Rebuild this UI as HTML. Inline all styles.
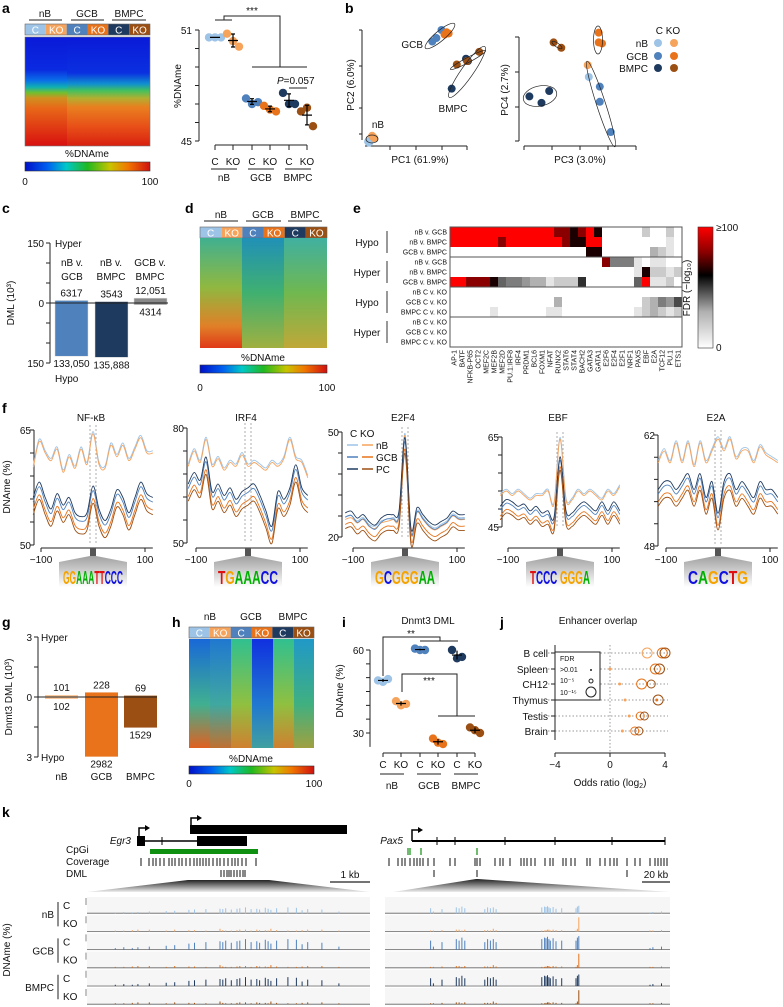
<!DOCTYPE html>
<html><head><meta charset="utf-8"><style>
html,body{margin:0;padding:0;background:#fff}
svg{display:block;font-family:"Liberation Sans",Arial,sans-serif}
.pl{font-weight:bold;font-size:14px}
.t{font-size:10px;fill:#111}
.s{font-size:7px;fill:#111}
.ax{stroke:#222;stroke-width:1;fill:none}
</style></head><body>
<svg id="fig" width="783" height="1007" viewBox="0 0 783 1007">
<defs>
<linearGradient id="jet" x1="0" x2="1" y1="0" y2="0"><stop offset="0" stop-color="#0010c8"/><stop offset="0.18" stop-color="#0060f0"/><stop offset="0.33" stop-color="#00c8c8"/><stop offset="0.5" stop-color="#20b820"/><stop offset="0.68" stop-color="#c8c400"/><stop offset="0.82" stop-color="#f07800"/><stop offset="1" stop-color="#d01010"/></linearGradient>
<linearGradient id="hmA1" x1="0" x2="0" y1="0" y2="1"><stop offset="0" stop-color="#0a1ad8"/><stop offset="0.3" stop-color="#0a2ae0"/><stop offset="0.4" stop-color="#0a70e8"/><stop offset="0.46" stop-color="#10b0b0"/><stop offset="0.51" stop-color="#70c030"/><stop offset="0.56" stop-color="#d09020"/><stop offset="0.65" stop-color="#e86818"/><stop offset="1" stop-color="#d81010"/></linearGradient>
<linearGradient id="hmA2" x1="0" x2="0" y1="0" y2="1"><stop offset="0" stop-color="#0a1ad8"/><stop offset="0.33" stop-color="#0a30e0"/><stop offset="0.43" stop-color="#1090d0"/><stop offset="0.49" stop-color="#40c060"/><stop offset="0.56" stop-color="#b0b030"/><stop offset="0.64" stop-color="#e88020"/><stop offset="0.82" stop-color="#e85018"/><stop offset="1" stop-color="#d82010"/></linearGradient>
<linearGradient id="hmD1" x1="0" x2="0" y1="0" y2="1"><stop offset="0" stop-color="#40b090"/><stop offset="0.45" stop-color="#90b840"/><stop offset="0.8" stop-color="#e08028"/><stop offset="1" stop-color="#e03818"/></linearGradient>
<linearGradient id="hmD2" x1="0" x2="0" y1="0" y2="1"><stop offset="0" stop-color="#2090b8"/><stop offset="0.5" stop-color="#40b070"/><stop offset="1" stop-color="#a0b040"/></linearGradient>
<linearGradient id="hmD3" x1="0" x2="0" y1="0" y2="1"><stop offset="0" stop-color="#40b0a0"/><stop offset="0.5" stop-color="#70b850"/><stop offset="1" stop-color="#c0a838"/></linearGradient>
<linearGradient id="hh1" x1="0" x2="0" y1="0" y2="1"><stop offset="0" stop-color="#1868d8"/><stop offset="0.6" stop-color="#40b090"/><stop offset="1" stop-color="#e06020"/></linearGradient>
<linearGradient id="hh2" x1="0" x2="0" y1="0" y2="1"><stop offset="0" stop-color="#2078d0"/><stop offset="0.6" stop-color="#40a8a0"/><stop offset="1" stop-color="#c07030"/></linearGradient>
<linearGradient id="hh3" x1="0" x2="0" y1="0" y2="1"><stop offset="0" stop-color="#30c090"/><stop offset="0.6" stop-color="#90c040"/><stop offset="1" stop-color="#d08030"/></linearGradient>
<linearGradient id="hh4" x1="0" x2="0" y1="0" y2="1"><stop offset="0" stop-color="#1030e0"/><stop offset="0.6" stop-color="#2078d0"/><stop offset="1" stop-color="#40a0a0"/></linearGradient>
<linearGradient id="hh6" x1="0" x2="0" y1="0" y2="1"><stop offset="0" stop-color="#2098c8"/><stop offset="0.6" stop-color="#40b080"/><stop offset="1" stop-color="#a0a040"/></linearGradient>
<linearGradient id="fdr" x1="0" x2="0" y1="1" y2="0"><stop offset="0" stop-color="#ffffff"/><stop offset="0.3" stop-color="#b0b0b0"/><stop offset="0.6" stop-color="#000000"/><stop offset="0.8" stop-color="#900000"/><stop offset="1" stop-color="#ff0000"/></linearGradient>
<linearGradient id="funnel" x1="0" x2="0" y1="0" y2="1"><stop offset="0" stop-color="#888"/><stop offset="1" stop-color="#fff"/></linearGradient>
<linearGradient id="zoomg" x1="0" x2="0" y1="0" y2="1"><stop offset="0" stop-color="#222"/><stop offset="1" stop-color="#eee"/></linearGradient>
</defs>

<!-- ===== Panel a ===== -->
<g>
<text class="pl" x="2" y="13">a</text>
<g class="t">
<text x="45" y="17" text-anchor="middle">nB</text><text x="87" y="17" text-anchor="middle">GCB</text><text x="129" y="17" text-anchor="middle">BMPC</text>
<line x1="29" x2="62" y1="20" y2="20" stroke="#222"/><line x1="71" x2="104" y1="20" y2="20" stroke="#222"/><line x1="112" x2="146" y1="20" y2="20" stroke="#222"/>
</g>
<g id="hdrA"></g>
<rect x="25" y="37" width="42" height="109" fill="url(#hmA1)"/>
<rect x="67" y="37" width="83" height="109" fill="url(#hmA2)"/>
<rect x="25" y="37" width="125" height="109" fill="none" stroke="#777" stroke-width="0.6"/>
<text class="t" x="87" y="157" text-anchor="middle">%DNAme</text>
<rect x="25" y="162" width="125" height="9" fill="url(#jet)" stroke="#333" stroke-width="0.6"/>
<text class="t" x="25" y="185" text-anchor="middle">0</text><text class="t" x="150" y="185" text-anchor="middle">100</text>
<g id="dotA"></g>
</g>

<!-- ===== Panel b ===== -->
<g>
<text class="pl" x="345" y="13">b</text>
<path class="ax" d="M362,30V140 M359,30H362 M359,66H362 M359,108H362 M359,134H362"/>
<path class="ax" d="M365,146H467 M390,146V150 M416,146V150 M442,146V150 M467,146V150"/>
<text class="t" x="354" y="85" text-anchor="middle" transform="rotate(-90 354 85)">PC2 (6.0%)</text>
<text class="t" x="420" y="163" text-anchor="middle">PC1 (61.9%)</text>
<path class="ax" d="M519,37V141 M515,37H519 M515,72H519 M515,107H519 M515,141H519"/>
<path class="ax" d="M524,146H636 M524,146V150 M552,146V150 M580,146V150 M608,146V150 M636,146V150"/>
<text class="t" x="508" y="90" text-anchor="middle" transform="rotate(-90 508 90)">PC4 (2.7%)</text>
<text class="t" x="580" y="163" text-anchor="middle">PC3 (3.0%)</text>
<text class="t" x="423" y="48" text-anchor="end">GCB</text>
<text class="t" x="453" y="112" text-anchor="middle">BMPC</text>
<text class="t" x="378" y="128" text-anchor="middle">nB</text>
<g id="pca"></g>
<g fill="none" stroke="#222" stroke-width="0.7">
<ellipse cx="440" cy="36" rx="19" ry="5" transform="rotate(-40 440 36)"/>
<ellipse cx="467" cy="72" rx="31" ry="6" transform="rotate(-55 467 72)"/>
<ellipse cx="468" cy="60" rx="20" ry="2.5" transform="rotate(-28 468 60)"/>
<ellipse cx="372" cy="139" rx="6" ry="4"/>
<ellipse cx="540" cy="96" rx="17" ry="10" transform="rotate(-12 540 96)"/>
<ellipse cx="557" cy="45" rx="6" ry="2" transform="rotate(35 557 45)"/>
<ellipse cx="598" cy="40" rx="4.5" ry="14"/>
<ellipse cx="601" cy="104" rx="45" ry="4.5" transform="rotate(72 601 104)"/>
</g>
<g class="t">
<text x="668" y="34" text-anchor="middle">C KO</text>
<text x="648" y="47" text-anchor="end">nB</text><text x="648" y="60" text-anchor="end">GCB</text><text x="648" y="72" text-anchor="end">BMPC</text>
<circle cx="658" cy="43" r="4" fill="#9dc3e6"/><circle cx="674" cy="43" r="4" fill="#f6a35c"/>
<circle cx="658" cy="56" r="4" fill="#4f81bd"/><circle cx="674" cy="56" r="4" fill="#e8731a"/>
<circle cx="658" cy="68" r="4" fill="#1f3a5f"/><circle cx="674" cy="68" r="4" fill="#9c4f12"/>
</g>
</g>

<!-- ===== Panel c ===== -->
<g>
<text class="pl" x="2" y="213">c</text>
<path class="ax" d="M50,243V363 M46,243H50 M46,263H50 M46,283H50 M46,303H50 M46,323H50 M46,343H50 M46,363H50"/>
<text class="t" x="44" y="247" text-anchor="end">150</text><text class="t" x="44" y="307" text-anchor="end">0</text><text class="t" x="44" y="367" text-anchor="end">150</text>
<text class="t" x="14" y="303" text-anchor="middle" transform="rotate(-90 14 303)">DML (10³)</text>
<text class="t" x="55" y="247">Hyper</text><text class="t" x="55" y="382">Hypo</text>
<g class="t" text-anchor="middle"><text x="72" y="266">nB v.</text><text x="72" y="280">GCB</text><text x="111" y="266">nB v.</text><text x="111" y="280">BMPC</text><text x="150" y="266">GCB v.</text><text x="150" y="280">BMPC</text></g>
<g id="barC"></g>
</g>

<!-- ===== Panel d ===== -->
<g>
<text class="pl" x="185" y="213">d</text>
<g class="t" text-anchor="middle"><text x="221" y="218">nB</text><text x="263" y="218">GCB</text><text x="305" y="218">BMPC</text></g>
<path d="M204,221H238 M246,221H281 M288,221H322" stroke="#222"/>
<g id="hdrD"></g>
<rect x="200" y="238" width="42" height="110" fill="url(#hmD1)"/>
<rect x="242" y="238" width="42" height="110" fill="url(#hmD2)"/>
<rect x="284" y="238" width="43" height="110" fill="url(#hmD3)"/>
<text class="t" x="263" y="361" text-anchor="middle">%DNAme</text>
<rect x="200" y="365" width="127" height="8" fill="url(#jet)" stroke="#333" stroke-width="0.6"/>
<text class="t" x="200" y="391" text-anchor="middle">0</text><text class="t" x="327" y="391" text-anchor="middle">100</text>
</g>

<!-- ===== Panel e ===== -->
<g>
<text class="pl" x="353" y="213">e</text>
<g id="heatE"></g>
<rect x="698" y="227" width="15" height="121" fill="url(#fdr)" stroke="#333" stroke-width="0.6"/>
<text class="t" x="716" y="231">≥100</text><text class="t" x="716" y="351">0</text>
<text class="t" x="690" y="288" text-anchor="middle" transform="rotate(-90 690 288)">FDR (−log₁₀)</text>
</g>

<!-- ===== Panel f ===== -->
<g>
<text class="pl" x="2" y="413">f</text>
<text class="t" x="10" y="487" text-anchor="middle" transform="rotate(-90 10 487)">DNAme (%)</text>
<g id="lineF"></g>
</g>

<!-- ===== Panel g ===== -->
<g>
<text class="pl" x="2" y="627">g</text>
<path class="ax" d="M38,637V757 M34,637H38 M34,667H38 M34,697H38 M34,727H38 M34,757H38"/>
<text class="t" x="32" y="641" text-anchor="end">3</text><text class="t" x="32" y="701" text-anchor="end">0</text><text class="t" x="32" y="761" text-anchor="end">3</text>
<text class="t" x="41" y="641">Hyper</text><text class="t" x="41" y="761">Hypo</text>
<text class="t" x="12" y="697" text-anchor="middle" transform="rotate(-90 12 697)">Dnmt3 DML (10³)</text>
<g id="barG"></g>
</g>

<!-- ===== Panel h ===== -->
<g>
<text class="pl" x="172" y="627">h</text>
<g class="t" text-anchor="middle"><text x="210" y="620">nB</text><text x="251" y="620">GCB</text><text x="293" y="620">BMPC</text></g>
<g id="hdrH"></g>
<rect x="189" y="639" width="21" height="109" fill="url(#hh1)"/>
<rect x="210" y="639" width="21" height="109" fill="url(#hh2)"/>
<rect x="231" y="639" width="21" height="109" fill="url(#hh3)"/>
<rect x="252" y="639" width="21" height="109" fill="url(#hh4)"/>
<rect x="273" y="639" width="21" height="109" fill="url(#hh3)"/>
<rect x="294" y="639" width="20" height="109" fill="url(#hh6)"/>
<text class="t" x="251" y="762" text-anchor="middle">%DNAme</text>
<rect x="189" y="766" width="125" height="8" fill="url(#jet)" stroke="#333" stroke-width="0.6"/>
<text class="t" x="189" y="787" text-anchor="middle">0</text><text class="t" x="314" y="787" text-anchor="middle">100</text>
</g>

<!-- ===== Panel i ===== -->
<g>
<text class="pl" x="342" y="627">i</text>
<text class="t" x="428" y="624" text-anchor="middle">Dnmt3 DML</text>
<text class="t" x="343" y="691" text-anchor="middle" transform="rotate(-90 343 691)">DNAme (%)</text>
<g id="dotI"></g>
</g>

<!-- ===== Panel j ===== -->
<g>
<text class="pl" x="500" y="627">j</text>
<text class="t" x="598" y="624" text-anchor="middle">Enhancer overlap</text>
<g id="dotJ"></g>
<g>
<rect x="555" y="652" width="45" height="48" fill="#fff" stroke="#222"/>
<text class="s" x="560" y="661">FDR</text>
<text class="s" x="560" y="672">&gt;0.01</text><circle cx="591" cy="670" r="1" fill="#222"/>
<text class="s" x="560" y="683">10⁻⁵</text><circle cx="591" cy="681" r="2" fill="none" stroke="#222"/>
<text class="s" x="560" y="695">10⁻¹⁵</text><circle cx="591" cy="692" r="5" fill="none" stroke="#222"/>
</g>
</g>

<!-- ===== Panel k ===== -->
<g>
<text class="pl" x="2" y="817">k</text>
<g>
<rect x="190" y="825" width="157" height="9" fill="#000"/>
<path d="M191,825V818H198" stroke="#000" fill="none" stroke-width="1.5"/><path d="M197,815L202,818L197,821Z" fill="#000"/>
<text class="t" x="131" y="844" text-anchor="end" font-style="italic">Egr3</text>
<rect x="137" y="836" width="8" height="10" fill="#000"/>
<line x1="145" x2="197" y1="841" y2="841" stroke="#000" stroke-width="1.5"/><line x1="162" x2="162" y1="837" y2="845" stroke="#000"/>
<rect x="197" y="836" width="50" height="10" fill="#000"/>
<path d="M139,836V828H146" stroke="#000" fill="none" stroke-width="1.5"/><path d="M145,825L150,828L145,831Z" fill="#000"/>
<text class="t" x="403" y="844" text-anchor="end" font-style="italic">Pax5</text>
<line x1="412" x2="665" y1="841" y2="841" stroke="#000" stroke-width="2"/>
<path d="M412,841V830H419" stroke="#000" fill="none" stroke-width="1.5"/><path d="M418,827L423,830L418,833Z" fill="#000"/>
<path d="M437,837V845 M455,837V845 M505,837V845 M555,837V845 M612,837V845 M665,837V845" stroke="#000"/>
</g>
<g class="t"><text x="66" y="853">CpGi</text><text x="66" y="865">Coverage</text><text x="66" y="877">DML</text></g>
<rect x="150" y="849" width="108" height="5" fill="#109010"/>
<path d="M408,848V855 M410,848V855 M421,848V855 M477,848V855" stroke="#109010" stroke-width="1.2"/>
<g id="covK"></g>
<path d="M330,882H370 M642,882H670" stroke="#222" stroke-width="1.2"/>
<text class="t" x="350" y="878" text-anchor="middle">1 kb</text><text class="t" x="656" y="878" text-anchor="middle">20 kb</text>
<path d="M188,880H269L370,892H87Z" fill="url(#zoomg)"/>
<path d="M476,879H478L670,892H393Z" fill="url(#zoomg)"/>
<text class="t" x="10" y="950" text-anchor="middle" transform="rotate(-90 10 950)">DNAme (%)</text>
<g id="trackK"></g>
</g>
</svg>

<script>
// ---------- DATA ----------
const sampleColors = ['#9dc3e6','#f6a35c','#4f81bd','#e8731a','#1f3a5f','#9c4f12'];
const sampleLabels = ['C','KO','C','KO','C','KO'];
const groupNames = ['nB','GCB','BMPC'];
const aValues = [[50.6,50.6,50.6],[50.8,50.4,50.1],[47.3,47.0,47.1],[46.9,46.7,46.6],[47.6,47.0,47.0],[46.6,46.8,45.8]];
const aTicks = [45,46,47,48,49,50,51];
const pc12 = {nB_C:[[3,3],[5,4],[4,2]], nB_KO:[[8,7],[9,6],[7,8]], GCB_C:[[66,90],[75,100],[70,93]], GCB_KO:[[80,98],[78,96],[82,97]], BMPC_C:[[101,73],[85,49],[99,75]], BMPC_KO:[[90,70],[100,73],[112,81]]};
const pc34 = {nB_C:[[58,63]], nB_KO:[[57,74]], GCB_C:[[68,54],[68,40],[78,12]], GCB_KO:[[67,104],[67,95],[70,94]], BMPC_C:[[4,45],[22,50],[15,39]], BMPC_KO:[[26,95],[33,90]]};
const cComparisons = ['nB v. GCB','nB v. BMPC','GCB v. BMPC'];
const cHyper = [6317,3543,12051];
const cHypo = [133050,135888,4314];
const cHyperLabels = ['6317','3543','12,051'];
const cHypoLabels = ['133,050','135,888','4314'];
const eMotifs = ['AP-1','BATF','NFKB-P65','OCT2','MEF2C','MEF2B','MEF2D','PU.1:IRF8','IRF4','PRDM1','BCL6','FOXM1','NFAT','RUNX2','STAT6','STAT4','BACH2','GATA3','GATA1','E2F6','E2F4','E2F1','NRF1','PAX5','EBF','E2A','TCF12','PU.1','ETS1'];
const eRows = ['nB v. GCB','nB v. BMPC','GCB v. BMPC','nB v. GCB','nB v. BMPC','GCB v. BMPC','nB C v. KO','GCB C v. KO','BMPC C v. KO','nB C v. KO','GCB C v. KO','BMPC C v. KO'];
const eGroups = ['Hypo','Hyper','Hypo','Hyper'];
const eMatrix = [
 'RRRRRRRRRRRRRrrkrRk.....2..2.',
 'RRRRRRrRRRRRRRrkkRR........1.',
 '.................kk......321.',
 '...................r5551.11..',
 '.......................1k2212',
 'RRrrrk65543312228......6R112.',
 '.............................',
 '.............3..........23547',
 '.....1......11.........123212',
 '.............................',
 '.............................',
 '.............................'];
const fMotifs = ['NF-κB','IRF4','E2F4','EBF','E2A'];
const fPositions = [-115,-103.5,-92,-80.5,-69,-57.5,-46,-34.5,-23,-11.5,0,11.5,23,34.5,46,57.5,69,80.5,92,103.5,115];
const fNB = [
 [60,63.5,62,61,62.5,59.5,61.5,60,62.5,60.5,64.5,60.5,60,63,61.5,63,61,62.5,64,62,62],
 [70,74,71,77,70,72,69,71,70,73,70,71,70,69,71,70,72,77,72,71,67],
 [25,25.5,24,25,23,22.5,24,24.5,25,26,49,21,27,25,23,22,23,24,26,25,25],
 [52,53,52,53,52,51,52,52,53,50,64.5,51,51,53,52,53,52,51,53,52,54],
 [58.5,60,58.5,61,58.5,61,58,61,58.5,60,61.5,60,61.5,59,60,60,58.5,60.5,59.5,59,58.5]];
const fLow = [
 [55,57,55,53.5,55.5,54,55,53,52.5,53,56.5,53.5,52,53.5,56,55,53,55,57,55.5,55],
 [63,66,64,70,61,63,60,62,59,61,62,63,60,56,52,61,59,62,68,62,60],
 [24.5,25,23,24,22,21,23,24,24,25,46,20,26,24,22,21,22,23,25,24,24],
 [48,49.5,49,48,48.5,47,48,46.5,47,45.5,59,47,46.5,48,49,48,47,49,47,49,47],
 [54,55,55,54,55,56,54,56,53,55,51,55,56,54,55,54,53,55,54,54,53]];
const fOffsets = [0.02,0,0.04,0.08,-0.03,-0.07];
const fYMin = [50,50,20,45,48];
const fYMax = [65,80,50,65,62];
const fLogos = ['GGAAATTCCC','TGAAACC','GCGGGAA','TCCC  GGGA','CAGCTG'];
const gHyper = [101,228,69];
const gHypo = [102,2982,1529];
const iValues = [[49,48.5,49.5],[41.5,40,40.5],[60.5,60,60],[28,26.5,26],[60,57,57.5],[32,31,30]];
const iTicks = [30,35,40,45,50,55,60];
const jTissues = ['B cell','Spleen','CH12','Thymus','Testis','Brain'];
const jOdds = [[2.7,3.8,4.0],[0,3.3,3.6],[0.7,2.3,3.0],[1.1,3.4,3.5],[1.4,2.2,2.5],[0.9,1.8,2.1]];
const jSize = [[5,5,5],[1,5,5],[1,5,4],[1,1,5],[1,4,4],[1,4,4]];
const jTicks = [-4,0,4];
const kLeftSites = [10,13,16,18,22,28,31,36,38,42,47,48,49,51,53,54,56,58,60,61,63,64,65,67,71,74,76,78,83,89];
const kLeftC = [0.1,0.15,0.1,0.15,0.2,0.25,0.3,0.4,0.45,0.5,0.55,0.5,0.6,0.45,0.55,0.6,0.7,0.5,0.55,0.45,0.65,0.55,0.4,0.6,0.7,0.65,0.35,0.5,0.45,0.2];
const kRightSites = [16,17,20,25,26,27,28,35,36,37,38,39,55,56,56.5,57,57.5,58,59,60,62,67,67.5,68,93,94,97];
const kRightC = [0.6,0.2,0.5,0.7,0.6,0.8,0.6,0.5,0.7,0.6,0.7,0.5,0.7,0.8,0.75,0.85,0.7,0.6,0.75,0.55,0.6,0.6,0.8,0.9,0.1,0.15,0.2];
const kKO = [0.1,0.1,0.15,0.2,0.2,0.1,0.2,0.15,0.15,0.1,0.3,0.15];
const kCoverLeft = [141,149,153,156,160,164,169,172,175,179,182,186,190,194,197,200,203,206,209,213,217,220,224,228,232,235,238,242,246,256];
const kCoverRight = [389,398,402,405,410,414,417,420,423,428,434,450,455,475,477,480,495,500,503,510,521,524,527,531,535,545,550,553,563,566,571,575,587,590,600,605,610,614,617,627,635,640,650,655,658,661,664,667];
const kDMLLeft = [221,224,227,229,231,234,237,240,243,245];
const kDMLRight = [434,477,627];

// ---------- HELPERS ----------
const NS='http://www.w3.org/2000/svg';
function mk(tag, attrs, parent){const e=document.createElementNS(NS,tag);for(const k in attrs)e.setAttribute(k,attrs[k]);parent.appendChild(e);return e;}
function lin(d0,d1,r0,r1){return v=>r0+(v-d0)*(r1-r0)/(d1-d0);}
function smooth(p){let d='M'+p[0][0].toFixed(1)+','+p[0][1].toFixed(1);for(let i=0;i<p.length-1;i++){const p0=p[Math.max(0,i-1)],p1=p[i],p2=p[i+1],p3=p[Math.min(p.length-1,i+2)];d+='C'+(p1[0]+(p2[0]-p0[0])/6).toFixed(1)+','+(p1[1]+(p2[1]-p0[1])/6).toFixed(1)+' '+(p2[0]-(p3[0]-p1[0])/6).toFixed(1)+','+(p2[1]-(p3[1]-p1[1])/6).toFixed(1)+' '+p2[0].toFixed(1)+','+p2[1].toFixed(1);}return d;}

function header(g,x0,w,y,h){
  for(let i=0;i<6;i++){
    const r=mk('rect',{x:x0+i*w,y:y,width:w,height:h,fill:sampleColors[i]},g);
    
    
    const t=mk('text',{x:x0+i*w+w/2,y:y+h-1.5,'text-anchor':'middle','font-size':10,fill:'#fff'},g);t.textContent=sampleLabels[i];
  }
  mk('rect',{x:x0,y:y,width:6*w,height:h,fill:'none',stroke:'#666','stroke-width':0.6},g);
}
header(document.getElementById('hdrA'),25,125/6,24,11);
header(document.getElementById('hdrD'),200,127/6,227,11);
header(document.getElementById('hdrH'),189,125/6,627,11);

// ---------- a dot plot ----------
(function(){
  const g=document.getElementById('dotA');
  const y=lin(45,51,141,30);const xs=[215,233,252,270,289,307];const jit=[-6,0,6];
  let d='M199,'+y(51)+'V'+y(45);aTicks.forEach(t=>d+='M195,'+y(t)+'H199');
  mk('path',{d:d,class:'ax'},g);
  [51,45].forEach(t=>{const e=mk('text',{x:192,y:y(t)+4,'text-anchor':'end',class:'t'},g);e.textContent=t;});
  const yl=mk('text',{x:181,y:86,'text-anchor':'middle',class:'t',transform:'rotate(-90 181 86)'},g);yl.textContent='%DNAme';
  let xd='M215,145H307';xs.forEach(x=>xd+='M'+x+',145V150');mk('path',{d:xd,class:'ax'},g);
  aValues.forEach((vals,i)=>{
    vals.forEach((v,j)=>{const c=mk('circle',{cx:xs[i]+jit[j],cy:y(v),r:4.2,fill:sampleColors[i]},g);
      
      });
    const m=vals.reduce((a,b)=>a+b,0)/3, sd=Math.sqrt(vals.reduce((a,b)=>a+(b-m)*(b-m),0)/2);
    mk('path',{d:`M${xs[i]-5},${y(m)}H${xs[i]+5}M${xs[i]},${y(m+sd)}V${y(m-sd)}M${xs[i]-2},${y(m+sd)}H${xs[i]+2}M${xs[i]-2},${y(m-sd)}H${xs[i]+2}`,stroke:'#000','stroke-width':1.2},g);
    const t=mk('text',{x:xs[i],y:165,'text-anchor':'middle',class:'t'},g);t.textContent=sampleLabels[i];
  });
  [[224,'nB'],[261,'GCB'],[298,'BMPC']].forEach(([x,s])=>{mk('line',{x1:x-13,x2:x+13,y1:169,y2:169,stroke:'#222'},g);const t=mk('text',{x:x,y:181,'text-anchor':'middle',class:'t'},g);t.textContent=s;});
  mk('path',{d:'M215,20H232M224,20V16H280V67M252,67H307M289,88H307',stroke:'#222',fill:'none'},g);
  const s=mk('text',{x:252,y:14,'text-anchor':'middle',class:'t'},g);s.textContent='***';
  const p=mk('text',{x:277,y:84,'text-anchor':'start',class:'t'},g);p.innerHTML='<tspan font-style="italic">P</tspan>=0.057';
})();

// ---------- b PCA ----------
(function(){
  const g=document.getElementById('pca');
  const x1=lin(0,100,365,467),y1=lin(0,100,145,30),x2=lin(0,100,525,635),y2=lin(0,100,145,37);
  const keys=['nB_C','nB_KO','GCB_C','GCB_KO','BMPC_C','BMPC_KO'];
  keys.forEach((k,i)=>{
    pc12[k].forEach(p=>{const c=mk('circle',{cx:x1(p[0]),cy:y1(p[1]),r:4,fill:sampleColors[i]},g);
      
      });
    pc34[k].forEach(p=>{const c=mk('circle',{cx:x2(p[0]),cy:y2(p[1]),r:4,fill:sampleColors[i]},g);
      
      });
  });
})();

// ---------- c bars ----------
(function(){
  const g=document.getElementById('barC');
  const y=lin(0,150000,303,243);const yd=lin(0,150000,303,363);
  const xs=[55,95,134],w=33,cols=['#4f81bd','#1f3a5f','#888'];
  cComparisons.forEach((c,i)=>{
    const h=mk('rect',{x:xs[i],y:y(cHyper[i]),width:w,height:303-y(cHyper[i]),fill:cols[i],stroke:'#ddd','stroke-width':0.5},g);
    
    
    const b=mk('rect',{x:xs[i],y:303,width:w,height:yd(cHypo[i])-303,fill:cols[i],stroke:'#ddd','stroke-width':0.5},g);
    
    
    const t1=mk('text',{x:xs[i]+w/2,y:y(cHyper[i])-4,'text-anchor':'middle',class:'t'},g);t1.textContent=cHyperLabels[i];
    const t2=mk('text',{x:xs[i]+w/2,y:yd(cHypo[i])+11,'text-anchor':'middle',class:'t'},g);t2.textContent=cHypoLabels[i];
  });
  mk('line',{x1:50,x2:168,y1:303,y2:303,stroke:'#222'},g);
})();

// ---------- e heatmap ----------
(function(){
  const g=document.getElementById('heatE');
  const x0=450,y0=227,cw=232/eMotifs.length,rh=10;
  function col(ch){if(ch==='.')return '#ffffff';if(ch==='R')return '#ff0000';if(ch==='r')return '#8a0000';if(ch==='k')return '#1a0000';const v=255-(+ch)*26;return `rgb(${v},${v},${v})`;}
  eMatrix.forEach((row,r)=>{
    for(let c=0;c<eMotifs.length;c++){
      const e=mk('rect',{x:x0+c*cw,y:y0+r*rh,width:cw+0.3,height:rh+0.3,fill:col(row[c])},g);
      
      
    }
    const t=mk('text',{x:447,y:y0+r*rh+7.5,'text-anchor':'end','font-size':7,fill:'#111'},g);t.textContent=eRows[r];
  });
  mk('rect',{x:x0,y:y0,width:232,height:12*rh,fill:'none',stroke:'#555'},g);
  [3,6,9].forEach(r=>mk('line',{x1:x0,x2:x0+232,y1:y0+r*rh,y2:y0+r*rh,stroke:'#555'},g));
  eGroups.forEach((s,i)=>{const t=mk('text',{x:367,y:y0+i*30+19,'text-anchor':'middle',class:'t'},g);t.textContent=s;
    mk('line',{x1:387,x2:387,y1:y0+i*30+4,y2:y0+i*30+26,stroke:'#555','stroke-width':1.2},g);});
  eMotifs.forEach((m,c)=>{const x=x0+c*cw+cw/2+2.5;const t=mk('text',{x:x,y:350,'text-anchor':'end','font-size':7,fill:'#111',transform:`rotate(-90 ${x} 350)`},g);t.textContent=m;});
})();

// ---------- f profiles ----------
(function(){
  const g=document.getElementById('lineF');
  const axX=[34,187,342,502,658],cen=[93,248,405,560,718],top=[430,428,432,437,435],bot=[545,543,537,527,546];
  const lineCols=['#9dc3e6','#f6a35c','#4f81bd','#1f3a5f','#e8731a','#9c4f12'];
  const letCol={G:'#f5a300',A:'#00b000',T:'#e01010',C:'#1010e0',' ':'#fff'};
  fMotifs.forEach((m,k)=>{
    const y=lin(fYMin[k],fYMax[k],bot[k],top[k]);const x=lin(-100,100,cen[k]-52,cen[k]+52);const rng=fYMax[k]-fYMin[k];
    const tt=mk('text',{x:cen[k]-2,y:421,'text-anchor':'middle',class:'t'},g);tt.textContent=m;
    let d=`M${axX[k]},${top[k]}V${bot[k]}`;for(let i=0;i<=5;i++)d+=`M${axX[k]-4},${top[k]+(bot[k]-top[k])*i/5}H${axX[k]}`;
    mk('path',{d:d,class:'ax'},g);
    const a=mk('text',{x:axX[k]-3,y:top[k]+4,'text-anchor':'end',class:'t'},g);a.textContent=fYMax[k];
    const b=mk('text',{x:axX[k]-3,y:bot[k]+4,'text-anchor':'end',class:'t'},g);b.textContent=fYMin[k];
    mk('path',{d:`M${x(-100)},548H${x(115)}M${x(-100)},548V552M${x(100)},548V552`,class:'ax'},g);
    const l1=mk('text',{x:x(-100),y:563,'text-anchor':'middle',class:'t'},g);l1.textContent='−100';
    const l2=mk('text',{x:x(100),y:563,'text-anchor':'middle',class:'t'},g);l2.textContent='100';
    mk('path',{d:`M${cen[k]-3},${top[k]-5}V${bot[k]}M${cen[k]+3},${top[k]-5}V${bot[k]}`,stroke:'#999','stroke-dasharray':'2,2','stroke-width':0.8},g);
    mk('path',{d:`M${cen[k]-3},548H${cen[k]+3}V556L${cen[k]+34},562V587H${cen[k]-34}V562L${cen[k]-3},556Z`,fill:'url(#funnel)'},g);
    mk('rect',{x:cen[k]-3,y:548,width:6,height:8,fill:'#555'},g);
    const logo=mk('text',{x:cen[k]-30,y:584,'font-size':16,'font-weight':'bold',textLength:60,lengthAdjust:'spacingAndGlyphs',transform:`translate(0,584) scale(1,1.15) translate(0,-584)`},g);
    
    
    fLogos[k].split('').forEach(ch=>{const s=mk('tspan',{fill:letCol[ch]||'#000'},logo);s.textContent=ch;});
    [0,1,2,4,3,5].forEach(si=>{
      const base=si<2?fNB[k]:fLow[k];
      const pts=fPositions.map((p,i)=>[x(p),y(base[i]+fOffsets[si]*rng)]);
      const pth=mk('path',{d:smooth(pts),fill:'none',stroke:lineCols[si],'stroke-width':0.9},g);
      
      
    });
  });
  const lg=[['nB','#9dc3e6','#f6a35c'],['GCB','#4f81bd','#e8731a'],['PC','#1f3a5f','#9c4f12']];
  const h=mk('text',{x:350,y:437,class:'t'},g);h.textContent='C KO';
  lg.forEach((r,i)=>{mk('line',{x1:347,x2:358,y1:445+i*12,y2:445+i*12,stroke:r[1],'stroke-width':1.5},g);mk('line',{x1:362,x2:373,y1:445+i*12,y2:445+i*12,stroke:r[2],'stroke-width':1.5},g);
    const t=mk('text',{x:376,y:449+i*12,class:'t'},g);t.textContent=r[0];});
})();

// ---------- g bars ----------
(function(){
  const g=document.getElementById('barG');
  const up=lin(0,3000,697,637),dn=lin(0,3000,697,757);
  const xs=[45,85,124],w=33,cols=['#f6a35c','#e8731a','#9c4f12'];
  groupNames.forEach((n,i)=>{
    const r1=mk('rect',{x:xs[i],y:up(gHyper[i]),width:w,height:697-up(gHyper[i]),fill:cols[i],opacity:i==0?0.6:1},g);
    
    
    const r2=mk('rect',{x:xs[i],y:697,width:w,height:dn(gHypo[i])-697,fill:cols[i],opacity:i==0?0.6:1},g);
    
    
    const a=mk('text',{x:xs[i]+w/2,y:up(gHyper[i])-4,'text-anchor':'middle',class:'t'},g);a.textContent=gHyper[i];
    const b=mk('text',{x:xs[i]+w/2,y:dn(gHypo[i])+11,'text-anchor':'middle',class:'t'},g);b.textContent=gHypo[i];
    const c=mk('text',{x:xs[i]+w/2,y:780,'text-anchor':'middle',class:'t'},g);c.textContent=n;
  });
  mk('line',{x1:38,x2:157,y1:697,y2:697,stroke:'#222'},g);
})();

// ---------- i dot plot ----------
(function(){
  const g=document.getElementById('dotI');
  const y=lin(30,60,733,650);const xs=[383,401,420,438,457,475];const jit=[-5,0,5];
  let d=`M370,${y(60)}V${y(25)}`;iTicks.forEach(t=>d+=`M366,${y(t)}H370`);mk('path',{d:d,class:'ax'},g);
  [60,30].forEach(t=>{const e=mk('text',{x:364,y:y(t)+4,'text-anchor':'end',class:'t'},g);e.textContent=t;});
  let xd='M383,753H475';xs.forEach(x=>xd+=`M${x},753V757`);mk('path',{d:xd,class:'ax'},g);
  iValues.forEach((vals,i)=>{
    vals.forEach((v,j)=>{const c=mk('circle',{cx:xs[i]+jit[j],cy:y(v),r:4.2,fill:sampleColors[i]},g);
      
      });
    const m=vals.reduce((a,b)=>a+b,0)/3, sd=Math.sqrt(vals.reduce((a,b)=>a+(b-m)*(b-m),0)/2);
    mk('path',{d:`M${xs[i]-5},${y(m)}H${xs[i]+5}M${xs[i]},${y(m+sd)}V${y(m-sd)}`,stroke:'#000','stroke-width':1.2},g);
    const t=mk('text',{x:xs[i],y:768,'text-anchor':'middle',class:'t'},g);t.textContent=sampleLabels[i];
  });
  [[392,'nB'],[429,'GCB'],[466,'BMPC']].forEach(([x,s])=>{mk('line',{x1:x-12,x2:x+12,y1:774,y2:774,stroke:'#222'},g);const t=mk('text',{x:x,y:789,'text-anchor':'middle',class:'t'},g);t.textContent=s;});
  mk('path',{d:'M383,676V637H440V641M420,641H458M402,692V674H457V716M438,716H475',stroke:'#222',fill:'none'},g);
  const a=mk('text',{x:411,y:637,'text-anchor':'middle',class:'t'},g);a.textContent='**';
  const b=mk('text',{x:429,y:684,'text-anchor':'middle',class:'t'},g);b.textContent='***';
})();

// ---------- j enhancer ----------
(function(){
  const g=document.getElementById('dotJ');
  const x=lin(-4,4,555,665);const rows=[653,669,684,700,716,731];const cols=['#f6a35c','#e8731a','#9c4f12'];
  mk('path',{d:`M${x(0)},645V752`,stroke:'#999','stroke-dasharray':'1.5,2'},g);
  jTissues.forEach((t,r)=>{
    mk('path',{d:`M548,${rows[r]}H668`,stroke:'#999','stroke-dasharray':'1.5,2'},g);
    mk('line',{x1:551,x2:555,y1:rows[r],y2:rows[r],stroke:'#222'},g);
    const l=mk('text',{x:548,y:rows[r]+4,'text-anchor':'end',class:'t'},g);l.textContent=t;
    jOdds[r].forEach((v,j)=>{const c=mk('circle',{cx:x(v),cy:rows[r],r:jSize[r][j],fill:jSize[r][j]<2?cols[j]:'none',stroke:cols[j],'stroke-width':1},g);
      
      });
  });
  mk('path',{d:'M555,645V740',class:'ax'},g);
  let d=`M${x(-4)},753H${x(4)}`;jTicks.forEach(t=>d+=`M${x(t)},753V757`);mk('path',{d:d,class:'ax'},g);
  jTicks.forEach(t=>{const e=mk('text',{x:x(t),y:768,'text-anchor':'middle',class:'t'},g);e.textContent=t<0?'−'+(-t):t;});
  const lab=mk('text',{x:610,y:786,'text-anchor':'middle',class:'t'},g);lab.innerHTML='Odds ratio (log<tspan font-size="7" dy="2">2</tspan><tspan dy="-2">)</tspan>';
})();

// ---------- k tracks ----------
(function(){
  const cg=document.getElementById('covK');
  let d='';kCoverLeft.forEach(x=>d+=`M${x},858V866`);kCoverRight.forEach(x=>d+=`M${x},858V866`);
  kDMLLeft.forEach(x=>d+=`M${x},870V877`);kDMLRight.forEach(x=>d+=`M${x},870V877`);
  mk('path',{d:d,stroke:'#111','stroke-width':1},cg);
  const g=document.getElementById('trackK');
  const y0=896,rh=18.2;const L=lin(0,100,87,370),R=lin(0,100,385,670);
  const rowCol=['#9dc3e6','#f6a35c','#4f81bd','#e8731a','#1f3a5f','#9c4f12'];
  const scale=[0.55,0,1,0,0.85,0];
  for(let r=0;r<6;r++){
    const top=y0+r*rh,base=top+rh-1;
    [[87,283],[385,285]].forEach(([x,w])=>{mk('rect',{x:x,y:top+1,width:w,height:rh-1,fill:'#f6f6f6'},g);mk('line',{x1:x,x2:x+w,y1:base,y2:base,stroke:'#666','stroke-width':0.8},g);});
    let p='';
    kLeftSites.forEach((s,i)=>{const h=(scale[r]?kLeftC[i]*scale[r]:kKO[i%kKO.length]*0.6)*15;p+=`M${L(s).toFixed(1)},${base}v${-h.toFixed(1)}`;});
    kRightSites.forEach((s,i)=>{let h=(scale[r]?kRightC[i]*scale[r]:kKO[i%kKO.length]*0.6)*15;if(!scale[r]&&i==23)h=14;p+=`M${R(s).toFixed(1)},${base}v${-h.toFixed(1)}`;});
    const tr=mk('path',{d:p,stroke:rowCol[r],'stroke-width':1},g);
    
    
    const t=mk('text',{x:63,y:top+13,class:'t'},g);t.textContent=sampleLabels[r];
    mk('line',{x1:86,x2:86,y1:top+2,y2:top+9,stroke:'#888'},g);
  }
  groupNames.forEach((n,i)=>{const t=mk('text',{x:54,y:y0+i*2*rh+rh+4,'text-anchor':'end',class:'t'},g);t.textContent=n;
    mk('line',{x1:58,x2:58,y1:y0+i*2*rh+6,y2:y0+i*2*rh+2*rh-6,stroke:'#222'},g);});
})();
</script>
</body></html>
